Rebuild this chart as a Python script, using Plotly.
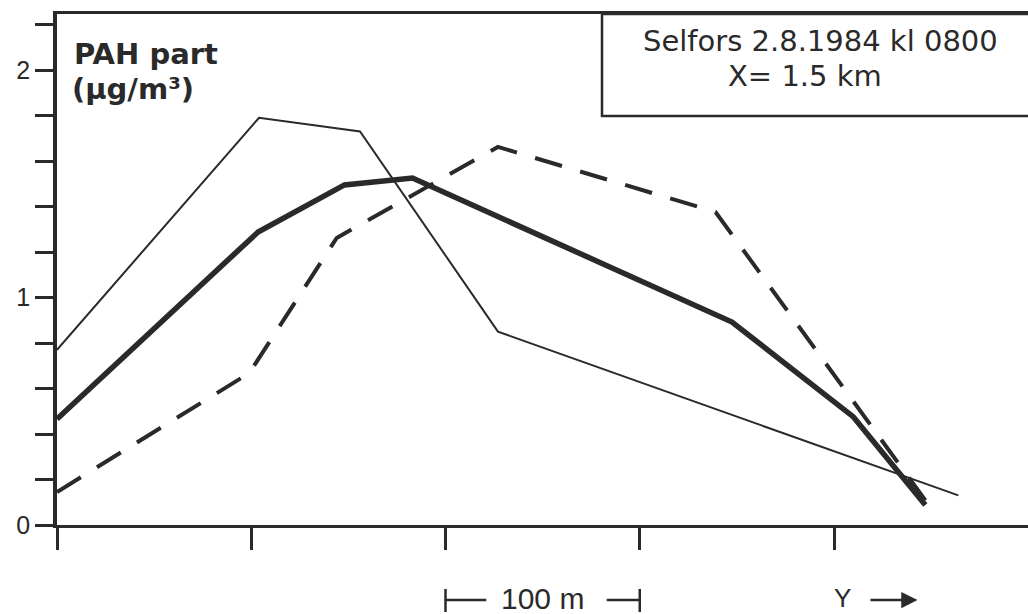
import plotly.graph_objects as go

# ---- data (x: metres across the plume, y: PAH part in µg/m³) ----
thin_x = [0, 104, 156, 227, 464]
thin_y = [0.77, 1.79, 1.73, 0.85, 0.13]

thick_x = [0, 103.5, 148, 183, 347.5, 410, 447]
thick_y = [0.466, 1.288, 1.495, 1.525, 0.892, 0.475, 0.088]

dash_x = [0, 99, 144, 227, 339, 448]
dash_y = [0.145, 0.668, 1.262, 1.662, 1.376, 0.097]

x_ticks = [0, 100, 200, 300, 400]
y_tick_vals = [0, 1, 2]
y_tick_text = ["0", "1", "2"]

title_lines = ["Selfors 2.8.1984 kl 0800", "X= 1.5 km"]
y_label_lines = ["PAH part", "(µg/m³)"]

INK = "#2a2a2a"
W, H = 1028, 614
L, R, T, B = 57, 0, 14, 89
PW, PH = W - L - R, H - T - B


def px(xpix):
    return (xpix - L) / PW


def py(ypix):
    return (H - B - ypix) / PH


fig = go.Figure()
fig.add_trace(go.Scatter(x=thin_x, y=thin_y, mode="lines",
                         line=dict(color=INK, width=2), showlegend=False))
fig.add_trace(go.Scatter(x=thick_x, y=thick_y, mode="lines",
                         line=dict(color=INK, width=5.5), showlegend=False))
fig.add_trace(go.Scatter(x=dash_x, y=dash_y, mode="lines",
                         line=dict(color=INK, width=4, dash="28px,19px"),
                         showlegend=False))

shapes = []
# info box top right
shapes.append(dict(type="rect", xref="paper", yref="paper",
                   x0=px(602), x1=1.03, y0=py(116), y1=1.0,
                   line=dict(color=INK, width=2.5)))
# 100 m scale bar below axis
ybar = py(600)
shapes += [
    dict(type="line", xref="x", yref="paper", x0=200, x1=200, y0=py(589), y1=py(612),
         line=dict(color=INK, width=2.5)),
    dict(type="line", xref="x", yref="paper", x0=200, x1=221, y0=ybar, y1=ybar,
         line=dict(color=INK, width=2.5)),
    dict(type="line", xref="x", yref="paper", x0=283, x1=300, y0=ybar, y1=ybar,
         line=dict(color=INK, width=2.5)),
    dict(type="line", xref="x", yref="paper", x0=300, x1=300, y0=py(589), y1=py(612),
         line=dict(color=INK, width=2.5)),
]

annotations = [
    dict(text=y_label_lines[0], xref="paper", yref="paper", x=px(73), y=py(54),
         xanchor="left", yanchor="middle", showarrow=False, borderpad=0,
         font=dict(family="DejaVu Sans", size=29, color=INK, weight="bold")),
    dict(text=y_label_lines[1], xref="paper", yref="paper", x=px(71), y=py(89),
         xanchor="left", yanchor="middle", showarrow=False, borderpad=0,
         font=dict(family="DejaVu Sans", size=29, color=INK, weight="bold")),
    dict(text=title_lines[0], xref="paper", yref="paper", x=px(820), y=py(41),
         xanchor="center", yanchor="middle", showarrow=False, borderpad=0,
         font=dict(family="DejaVu Sans", size=29, color=INK)),
    dict(text=title_lines[1], xref="paper", yref="paper", x=px(805), y=py(76),
         xanchor="center", yanchor="middle", showarrow=False, borderpad=0,
         font=dict(family="DejaVu Sans", size=29, color=INK)),
    dict(text="100 m", xref="x", yref="paper", x=250, y=py(598),
         xanchor="center", yanchor="middle", showarrow=False,
         font=dict(family="Liberation Sans Narrow, Liberation Sans", size=30, color=INK)),
    dict(text="Y", xref="x", yref="paper", x=404.5, y=py(598),
         xanchor="center", yanchor="middle", showarrow=False,
         font=dict(family="Liberation Sans", size=26, color=INK)),
    dict(text="", xref="x", yref="paper", x=443, y=py(600),
         axref="x", ax=418, ayref="pixel", ay=0,
         showarrow=True, arrowhead=2, arrowsize=1.3, arrowwidth=2.5, arrowcolor=INK),
]

fig.update_layout(
    width=W, height=H, autosize=False,
    margin=dict(l=L, r=R, t=T, b=B, pad=0),
    paper_bgcolor="white", plot_bgcolor="white",
    shapes=shapes, annotations=annotations,
    xaxis=dict(range=[0, PW / 1.9425], showline=True, linewidth=3, linecolor=INK,
               mirror=True, ticks="outside", ticklen=22, tickwidth=2.5, tickcolor=INK,
               tickvals=x_ticks, showticklabels=False, showgrid=False, zeroline=False,
               fixedrange=True),
    yaxis=dict(range=[0, (H - B - T) / 227.5], showline=True, linewidth=3.5, linecolor=INK,
               ticks="outside", ticklen=18, tickwidth=2.5, tickcolor=INK,
               tickvals=y_tick_vals, ticktext=y_tick_text,
               tickfont=dict(family="Liberation Sans", size=25, color=INK),
               minor=dict(dtick=0.2, ticks="outside", ticklen=18, tickwidth=2.5,
                          tickcolor=INK, showgrid=False),
               showgrid=False, zeroline=False, fixedrange=True),
)

fig.write_html("out.html")
